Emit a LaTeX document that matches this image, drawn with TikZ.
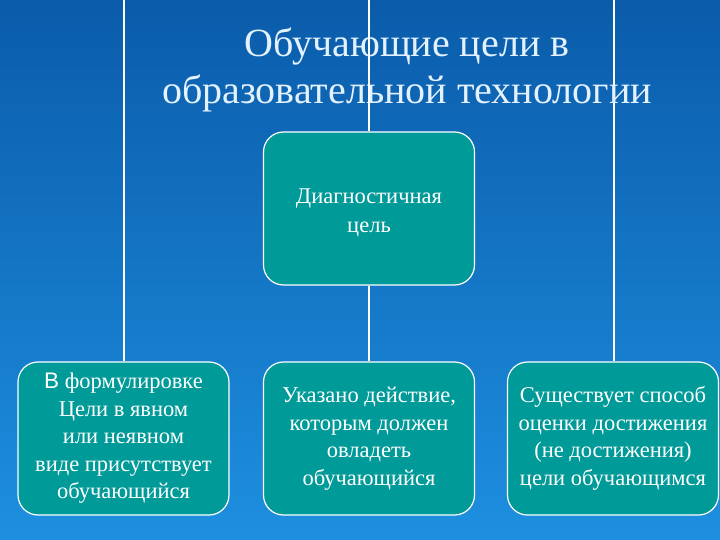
\documentclass[tikz,border=0pt]{standalone}
\usepackage{fontspec}
\setmainfont{Liberation Serif}
\newfontfamily\arialf{Liberation Sans}
\definecolor{bgtop}{HTML}{0A5CAA}
\definecolor{bgbot}{HTML}{1E8FE0}
\definecolor{boxfill}{HTML}{009A98}
\definecolor{titlec}{HTML}{E4F1FF}
\begin{document}
\begin{tikzpicture}[x=1pt,y=-1pt,
  goalbox/.style={draw=white, line width=1.2pt, fill=boxfill, rounded corners=20pt,
    minimum width=211pt, minimum height=153pt, inner sep=2pt, align=center,
    text=white, font=\fontsize{22.5}{27.5}\selectfont},
  link/.style={draw=white, line width=1.8pt}]
\shade[top color=bgtop, bottom color=bgbot] (0,0) rectangle (720,540);
\useasboundingbox (0,0) rectangle (720,540);
\coordinate (tl) at (124,0);
\coordinate (tc) at (369,0);
\coordinate (tr) at (614,0);
\node[goalbox] (top) at (369,208.5) {\raisebox{-4pt}[\height][\depth]{\begin{tabular}{@{}c@{}}Диагностичная\\[1pt]цель\end{tabular}}};
\node[goalbox] (bl) at (123.5,438.5) {{\arialf В} формулировке\\Цели в явном\\или неявном\\виде присутствует\\обучающийся};
\node[goalbox] (bm) at (369,438.5) {Указано действие,\\которым должен\\овладеть\\обучающийся};
\node[goalbox] (br) at (613,438.5) {Существует способ\\оценки достижения\\(не достижения)\\цели обучающимся};
\draw[link] (tl) -- (tl |- bl.north);
\draw[link] (tr) -- (tr |- br.north);
\draw[link] (top.south) -- (bm.north);
\node[text=titlec, align=center, font=\fontsize{40}{47}\selectfont] (title) at (407,70) {Обучающие цели в\\образовательной технологии};
\draw[link] (tc) -- (top.north);
\end{tikzpicture}
\end{document}
